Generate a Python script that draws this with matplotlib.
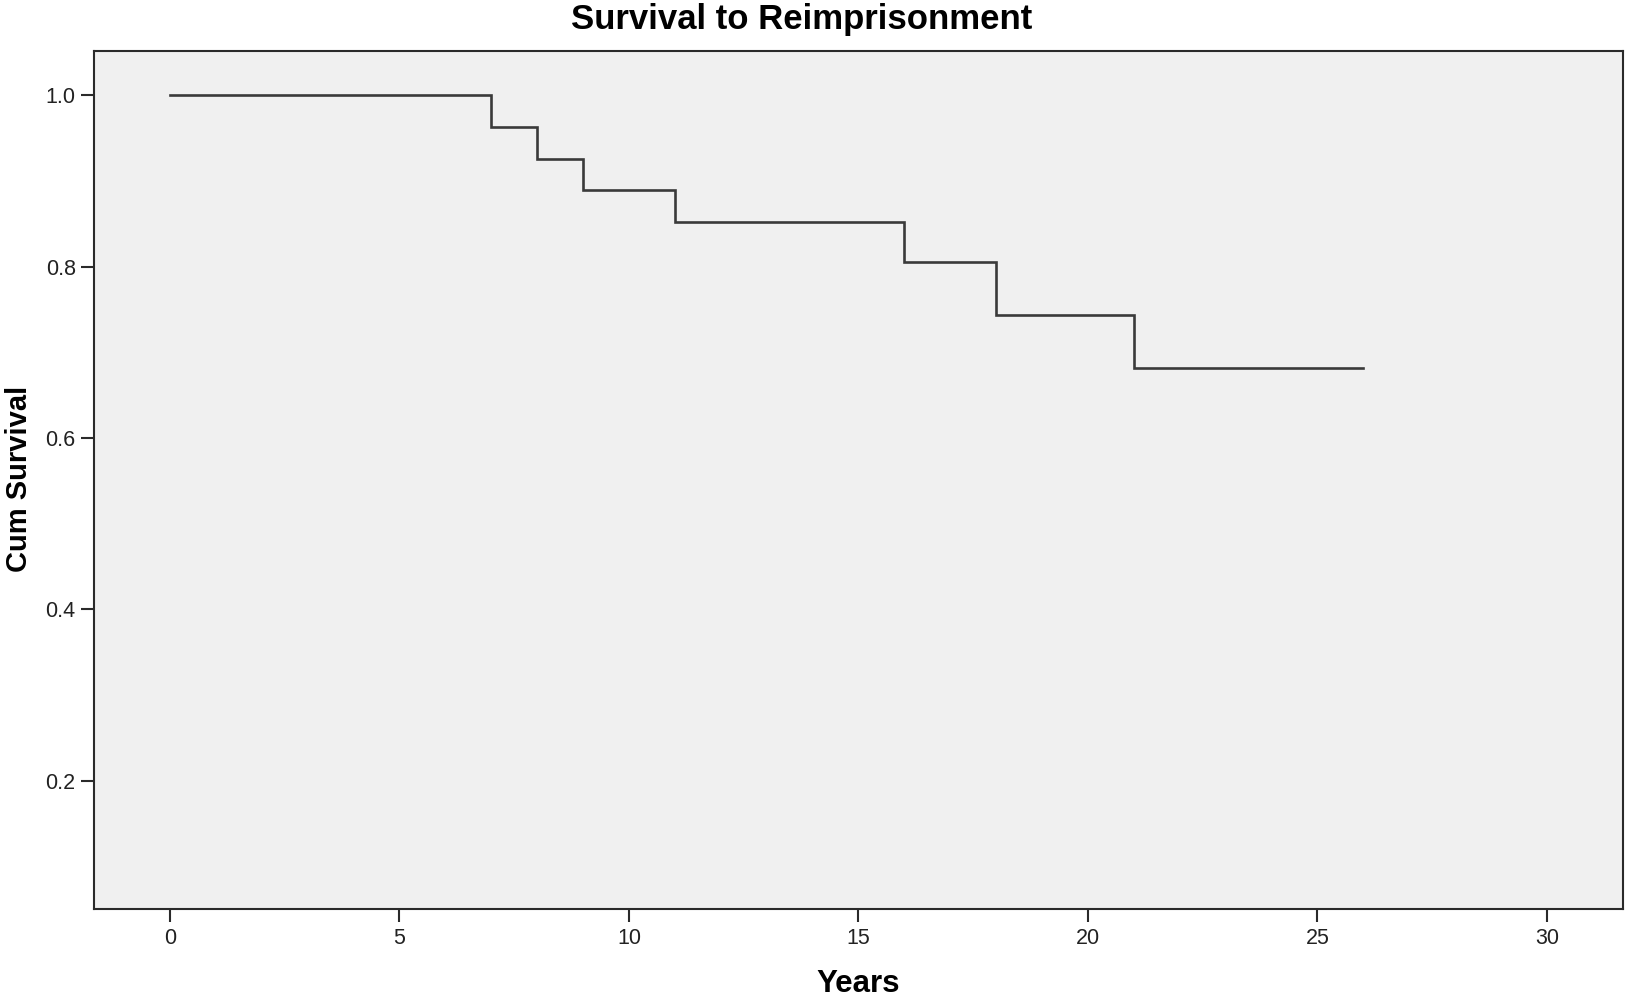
"""Kaplan-Meier style step curve: survival to reimprisonment (SPSS look)."""
import matplotlib
matplotlib.use("Agg")
import matplotlib.pyplot as plt

# step curve
years = [0, 7, 8, 9, 11, 16, 18, 21, 26]
cum_survival = [1.0, 0.963, 0.926, 0.889, 0.852, 0.806, 0.744, 0.682, 0.682]

x_ticks = [0, 5, 10, 15, 20, 25, 30]
y_ticks = [0.2, 0.4, 0.6, 0.8, 1.0]

plt.rcParams["font.family"] = ["Liberation Sans", "DejaVu Sans"]

fig = plt.figure(figsize=(16.25, 9.97), dpi=100)
ax = fig.add_axes([0.058, 0.0883, 0.9408, 0.8607])
ax.set_facecolor("#f0f0f0")

ax.step(years, cum_survival, where="post", color="#3a3a3a", lw=1.9,
        solid_joinstyle="miter")

ax.set_xlim(-1.65, 31.66)
ax.set_ylim(0.05, 1.052)
ax.set_xticks(x_ticks)
ax.set_xticklabels([str(t) for t in x_ticks])
ax.set_yticks(y_ticks)
ax.set_yticklabels([f"{t:.1f}" for t in y_ticks])
ax.tick_params(direction="out", length=9.4, width=1.5, color="#2a2a2a",
               labelsize=15.5, pad=4, labelcolor="#222222")
for s in ax.spines.values():
    s.set_linewidth(1.5)
    s.set_color("#2a2a2a")

ax.set_xlabel("Years", fontsize=22.5, fontweight="bold", va="center")
ax.xaxis.set_label_coords(0.5, -0.088)
ax.set_ylabel("Cum Survival", fontsize=21, fontweight="bold", va="center")
ax.yaxis.set_label_coords(-0.0495, 0.501)

fig.text(0.4935, 0.980, "Survival to Reimprisonment", ha="center",
         va="center", fontsize=25, fontweight="bold")

fig.savefig("out.png", dpi=100)
